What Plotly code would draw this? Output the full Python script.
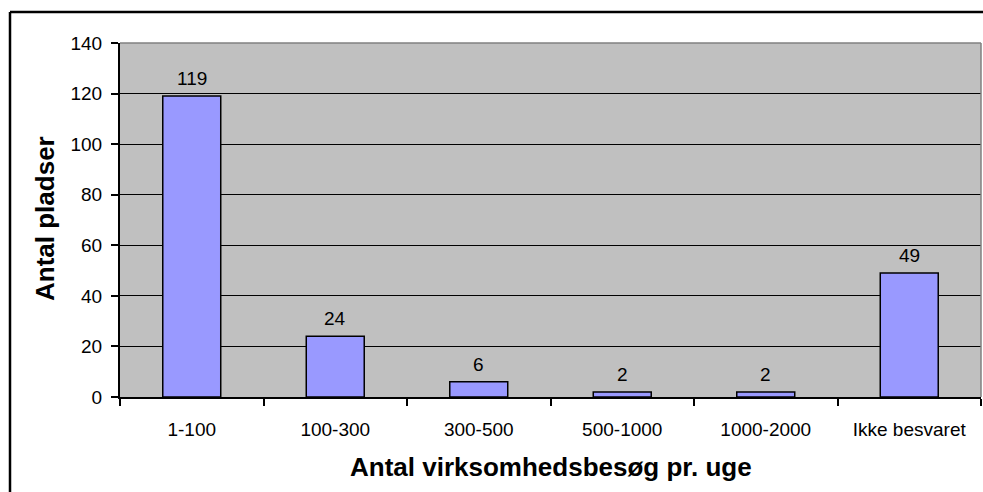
import plotly.graph_objects as go

categories = ["1-100", "100-300", "300-500", "500-1000", "1000-2000", "Ikke besvaret"]
values = [119, 24, 6, 2, 2, 49]
y_ticks = [0, 20, 40, 60, 80, 100, 120, 140]
x_title = "Antal virksomhedsbesøg pr. uge"
y_title = "Antal pladser"

W, H = 983, 492
L, R, T, B = 120, 2, 43, 95
pw = W - L - R
ph = H - T - B

FONT = "Liberation Sans, Arial, sans-serif"


def px_x(px):
    # page pixel -> paper coordinate
    return (px - L) / pw


def px_y(py):
    return (H - B - py) / ph


fig = go.Figure()
fig.add_trace(go.Bar(
    x=categories, y=values,
    marker=dict(color="#9999FF", line=dict(color="black", width=1.5)),
    hoverinfo="x+y",
))

annotations = []
for c, v in zip(categories, values):
    annotations.append(dict(
        x=c, y=v, xref="x", yref="y", text=str(v), showarrow=False,
        yanchor="bottom", yshift=5, font=dict(size=19, color="black", family=FONT),
    ))
annotations.append(dict(
    x=px_x(551), y=px_y(467), xref="paper", yref="paper", text="<b>" + x_title + "</b>",
    showarrow=False, xanchor="center", yanchor="middle",
    font=dict(size=26, color="black", family=FONT),
))
annotations.append(dict(
    x=px_x(45), y=px_y(219), xref="paper", yref="paper", text="<b>" + y_title + "</b>",
    showarrow=False, xanchor="center", yanchor="middle", textangle=-90,
    font=dict(size=26, color="black", family=FONT),
))

shapes = [
    # outer chart border (left and top visible)
    dict(type="line", xref="paper", yref="paper", x0=px_x(10), x1=px_x(10), y0=px_y(12), y1=px_y(520),
         line=dict(color="black", width=2.5)),
    dict(type="line", xref="paper", yref="paper", x0=px_x(10), x1=px_x(1010), y0=px_y(12), y1=px_y(12),
         line=dict(color="black", width=2.5)),
    # plot area frame (top and right) in gray
    dict(type="line", xref="paper", yref="paper", x0=0, x1=1, y0=1, y1=1,
         line=dict(color="#808080", width=1.5)),
    dict(type="line", xref="paper", yref="paper", x0=1, x1=1, y0=0, y1=1,
         line=dict(color="#808080", width=1.5)),
]

fig.update_layout(
    width=W, height=H,
    margin=dict(l=L, r=R, t=T, b=B),
    paper_bgcolor="white",
    plot_bgcolor="#C0C0C0",
    bargap=0.596,
    showlegend=False,
    font=dict(family=FONT, color="black", size=18),
    annotations=annotations,
    shapes=shapes,
    xaxis=dict(
        type="category",
        tickson="boundaries",
        ticks="outside", ticklen=7, tickwidth=1.5, tickcolor="black",
        showline=True, linecolor="black", linewidth=2,
        showgrid=False,
        tickfont=dict(size=19, color="black", family=FONT),
        ticklabelstandoff=14,
    ),
    yaxis=dict(
        range=[0, 140],
        tickvals=y_ticks,
        ticks="outside", ticklen=7, tickwidth=1.5, tickcolor="black",
        showline=True, linecolor="black", linewidth=2,
        showgrid=True, gridcolor="black", gridwidth=1,
        zeroline=False,
        tickfont=dict(size=19, color="black", family=FONT),
        ticklabelstandoff=5,
    ),
)

fig.write_html(
    "out.html",
    config={"displayModeBar": False},
    post_script="document.body.style.margin='0';document.documentElement.style.overflow='hidden';document.body.style.overflow='hidden';",
)
